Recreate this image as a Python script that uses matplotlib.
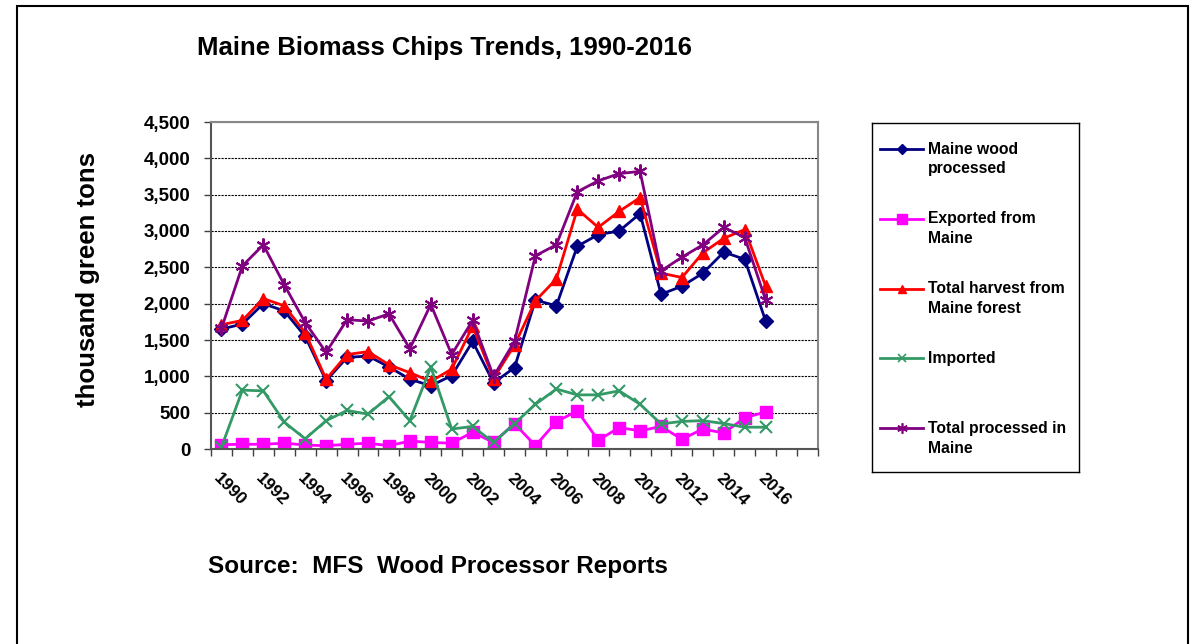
import matplotlib
matplotlib.use('Agg')
import numpy as np
from matplotlib import pyplot as plt
from matplotlib.patches import Rectangle
from matplotlib.transforms import ScaledTranslation
from matplotlib.ticker import FuncFormatter, MultipleLocator

plt.rcParams['font.family'] = ['Liberation Sans', 'DejaVu Sans']
plt.rcParams['font.weight'] = 'bold'

years = list(range(1990, 2017))

# 单位：千绿吨
maine_wood = [1650, 1720, 2000, 1900, 1550, 940, 1260, 1280, 1130, 960, 870, 1010, 1480,
              910, 1120, 2050, 1970, 2790, 2950, 3000, 3240, 2130, 2240, 2420, 2710, 2610, 1760]
exported = [60, 65, 65, 80, 55, 45, 65, 80, 45, 110, 90, 80, 230,
            90, 350, 45, 375, 525, 120, 295, 250, 310, 135, 275, 220, 430, 510]
total_harvest = [1710, 1770, 2070, 1970, 1600, 960, 1300, 1340, 1160, 1050, 930, 1100, 1690,
                 970, 1430, 2040, 2340, 3300, 3050, 3270, 3460, 2420, 2360, 2700, 2900, 3020, 2240]
imported = [25, 810, 800, 370, 140, 390, 530, 480, 720, 390, 1130, 275, 310,
            90, 350, 615, 825, 745, 745, 800, 615, 345, 380, 390, 350, 300, 300]
total_processed = [1660, 2520, 2810, 2260, 1740, 1330, 1780, 1760, 1860, 1380, 1990, 1300, 1770,
                   1000, 1480, 2660, 2810, 3540, 3690, 3790, 3820, 2450, 2640, 2810, 3050, 2910, 2050]

series_names = ['Maine wood\nprocessed', 'Exported from\nMaine', 'Total harvest from\nMaine forest',
                'Imported', 'Total processed in\nMaine']
series_data = [maine_wood, exported, total_harvest, imported, total_processed]
colors = ['#000080', '#FF00FF', '#FF0000', '#339966', '#800080']
markers = ['D', 's', '^', 'x', (6, 2, 0)]
msizes = [7, 9, 8.5, 8, 10]

W, H = 1196, 644
fig = plt.figure(figsize=(W / 100, H / 100), dpi=100)
fig.patch.set_facecolor('white')

# 外框
fig.patches.append(Rectangle((16.5 / W, -0.1), (1188 - 16.5) / W, 1.1 - 5.5 / H,
                             transform=fig.transFigure, fill=False, edgecolor='black', lw=1.5))

ax = fig.add_axes([211 / W, 1 - 449 / H, (818 - 211) / W, (449 - 122) / H])

for data, c, m, ms in zip(series_data, colors, markers, msizes):
    thin = m == 'x' or isinstance(m, tuple)
    ax.plot(years, data, color=c, lw=2, marker=m, markersize=ms,
            markerfacecolor=c, markeredgecolor=c, markeredgewidth=1.5 if thin else 1)

ax.set_xlim(1989.5, 2018.5)
ax.set_ylim(0, 4500)
ax.yaxis.set_major_locator(MultipleLocator(500))
ax.yaxis.set_major_formatter(FuncFormatter(lambda v, p: f'{int(v):,}'))
ax.grid(axis='y', color='black', linestyle=(0, (2, 1)), lw=0.8)
ax.set_axisbelow(True)

ax.set_xticks(list(range(1990, 2017, 2)))
ax.set_xticklabels([str(y) for y in range(1990, 2017, 2)])
ax.set_xticks(np.arange(1989.5, 2018.6, 1), minor=True)
ax.tick_params(axis='x', which='major', length=0, pad=19, labelsize=12.5)
ax.tick_params(axis='x', which='minor', length=5, width=1, color='#404040', direction='out')
ax.tick_params(axis='y', length=5, width=1, color='#404040', labelsize=13.5, pad=10)
for lab in ax.get_xticklabels():
    lab.set_rotation(-45)
    lab.set_ha('left')
    lab.set_va('center')
    lab.set_rotation_mode('anchor')
    lab.set_transform(lab.get_transform() + ScaledTranslation(-0.05, 0, fig.dpi_scale_trans))
for lab in ax.get_yticklabels():
    lab.set_fontweight('bold')

for s in ['top', 'right']:
    ax.spines[s].set_color('#888888')
    ax.spines[s].set_linewidth(1.5)
for s in ['left', 'bottom']:
    ax.spines[s].set_color('#555555')
    ax.spines[s].set_linewidth(1.5)

fig.text(88 / W, 1 - 280 / H, 'thousand green tons', rotation=90, ha='center', va='center',
         fontsize=18.5, fontweight='bold')
fig.text(197 / W, 1 - 48 / H, 'Maine Biomass Chips Trends, 1990-2016', ha='left', va='center',
         fontsize=18.5, fontweight='bold')
fig.text(208 / W, 1 - 567 / H, 'Source:  MFS  Wood Processor Reports', ha='left', va='center',
         fontsize=17.5, fontweight='bold')

# 图例（手动绘制）
lax = fig.add_axes([872 / W, 1 - 472 / H, (1079 - 872) / W, (472 - 123) / H])
lax.set_xlim(872, 1079)
lax.set_ylim(472, 123)
lax.set_xticks([])
lax.set_yticks([])
for s in lax.spines.values():
    s.set_color('black')
    s.set_linewidth(1)
for i, (name, c, m, ms) in enumerate(zip(series_names, colors, markers, msizes)):
    y0 = 149 + 69.8 * i
    lax.plot([880, 923], [y0, y0], color=c, lw=2)
    lax.plot([901.5], [y0], color=c, marker=m, markersize=ms * 0.75,
             markeredgewidth=1.2 if m == 'x' or isinstance(m, tuple) else 1, markerfacecolor=c)
    for j, line in enumerate(name.split('\n')):
        lax.text(928, y0 + 20 * j, line, ha='left', va='center', fontsize=11.3, fontweight='bold')

fig.savefig('out.png', dpi=100)
